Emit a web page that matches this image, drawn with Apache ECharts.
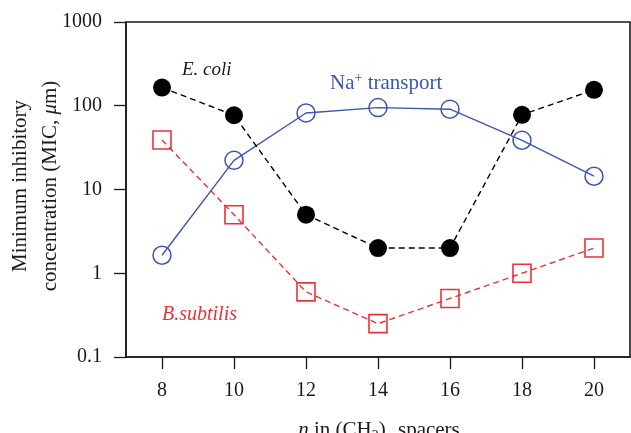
<!DOCTYPE html>
<html>
<head>
<meta charset="utf-8">
<script src="https://cdn.jsdelivr.net/npm/echarts@6/dist/echarts.min.js"></script>
<style>html,body{margin:0;padding:0;background:#fff}#c{width:631px;height:433px}</style>
</head>
<body>
<div id="c"></div>
<script>
const spacers = [8, 10, 12, 14, 16, 18, 20];
const xTicks = [8, 10, 12, 14, 16, 18, 20];
const yTicks = [0.1, 1, 10, 100, 1000];
const ecoli = [165, 77, 5, 2, 2, 78, 155];
const naTransport = [1.64, 22.3, 82, 95, 91, 38.7, 14.4];
const bsubtilis = [39, 5, 0.6, 0.25, 0.5, 1, 2];

const FONT = 'Liberation Serif, Times New Roman, serif';
const INK = '#1a1a1a';
const BLUE = '#3d57ad';
const RED = '#e8323b';

const pairs = arr => spacers.map((x, i) => [x, arr[i]]);

const chart = echarts.init(document.getElementById('c'), null, {renderer: 'canvas'});
chart.setOption({
  animation: false,
  backgroundColor: '#fff',
  grid: {left: 126, top: 22, width: 504, height: 335, show: true, borderColor: INK, borderWidth: 1.6, containLabel: false},
  xAxis: {
    type: 'value', min: 7, max: 21,
    axisLine: {show: true, lineStyle: {color: INK, width: 1.6}},
    axisTick: {show: true, inside: false, length: 12, customValues: xTicks, lineStyle: {color: INK, width: 1.3}},
    axisLabel: {customValues: xTicks, margin: 24, fontFamily: FONT, fontSize: 20, color: INK},
    splitLine: {show: false}
  },
  yAxis: {
    type: 'log', logBase: 10, min: 0.1, max: 1000,
    axisLine: {show: true, lineStyle: {color: INK, width: 1.6}},
    axisTick: {show: true, inside: false, length: 12, customValues: yTicks, lineStyle: {color: INK, width: 1.3}},
    axisLabel: {customValues: yTicks, margin: 24, fontFamily: FONT, fontSize: 20, color: INK,
      formatter: v => v < 1 ? (+v).toFixed(1) : String(Math.round(v))},
    minorTick: {show: false},
    splitLine: {show: false}
  },
  graphic: [
    {type: 'text', x: 35, y: 186, rotation: Math.PI / 2,
      style: {text: 'Minimum inhibitory\nconcentration (MIC, {mu|μ}m)', fontFamily: FONT, fontSize: 21, fill: INK,
        align: 'center', verticalAlign: 'middle', lineHeight: 30,
        rich: {mu: {fontFamily: FONT, fontSize: 21, fontStyle: 'italic', fill: INK, lineHeight: 30}}}},
    {type: 'text', x: 379, y: 430,
      style: {text: '{it|n} in (CH{sub|2}){subit|n} spacers', fontFamily: FONT, fontSize: 21, fill: INK,
        align: 'center', verticalAlign: 'middle', lineHeight: 26,
        rich: {
          it: {fontFamily: FONT, fontSize: 21, fontStyle: 'italic', fill: INK, lineHeight: 26},
          sub: {fontFamily: FONT, fontSize: 14, fill: INK, lineHeight: 14, verticalAlign: 'bottom'},
          subit: {fontFamily: FONT, fontSize: 14, fontStyle: 'italic', fill: INK, lineHeight: 14, verticalAlign: 'bottom'}
        }}},
    {type: 'text', x: 182, y: 70,
      style: {text: 'E. coli', fontFamily: FONT, fontSize: 19, fontStyle: 'italic', fill: INK, align: 'left', verticalAlign: 'middle'}},
    {type: 'text', x: 330, y: 83,
      style: {text: 'Na{sup|+} transport', fontFamily: FONT, fontSize: 21, fill: BLUE, align: 'left', verticalAlign: 'middle', lineHeight: 24,
        rich: {sup: {fontFamily: FONT, fontSize: 14, fill: BLUE, lineHeight: 14, verticalAlign: 'top'}}}},
    {type: 'text', x: 162, y: 315,
      style: {text: 'B.subtilis', fontFamily: FONT, fontSize: 20, fontStyle: 'italic', fill: RED, align: 'left', verticalAlign: 'middle'}}
  ],
  series: [
    {name: 'Na+ transport', type: 'line', data: pairs(naTransport), symbol: 'circle', symbolSize: 18,
      itemStyle: {color: 'rgba(0,0,0,0)', borderColor: BLUE, borderWidth: 1.5},
      lineStyle: {color: BLUE, width: 1.4, type: 'solid'}, z: 2},
    {name: 'B.subtilis', type: 'line', data: pairs(bsubtilis), symbol: 'rect', symbolSize: 18,
      itemStyle: {color: 'rgba(0,0,0,0)', borderColor: RED, borderWidth: 1.6},
      lineStyle: {color: RED, width: 1.4, type: [6, 4]}, z: 3},
    {name: 'E. coli', type: 'line', data: pairs(ecoli), symbol: 'circle', symbolSize: 18,
      itemStyle: {color: '#000', borderColor: '#000', borderWidth: 0},
      lineStyle: {color: '#000', width: 1.4, type: [6, 4]}, z: 4}
  ]
});
</script>
</body>
</html>
